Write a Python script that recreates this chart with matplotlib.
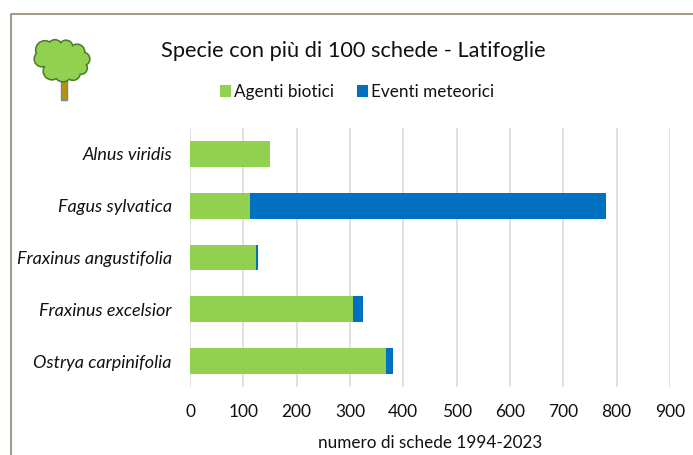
import matplotlib
matplotlib.use("Agg")
import matplotlib.pyplot as plt
from matplotlib.patches import Circle, Rectangle

plt.rcParams["font.family"] = ["Lato", "DejaVu Sans"]

species = ["Alnus viridis", "Fagus sylvatica", "Fraxinus angustifolia", "Fraxinus excelsior", "Ostrya carpinifolia"]
agenti_biotici = [150, 112, 124, 306, 367]
eventi_meteorici = [0, 668, 3, 19, 14]
x_ticks = [0, 100, 200, 300, 400, 500, 600, 700, 800, 900]

W, H = 693, 455
GREEN = "#92D050"
BLUE = "#0070C0"
GRID = "#D9D9D9"
FRAME = "#A69C8E"
TEXT = "#111111"

fig = plt.figure(figsize=(W / 100, H / 100), dpi=100, facecolor="white")

# overlay in pixel coordinates for the frame and the tree icon
bg = fig.add_axes([0, 0, 1, 1])
bg.set_xlim(0, W)
bg.set_ylim(H, 0)
bg.axis("off")
bg.plot([10.5, 10.5, W], [H, 13.5, 13.5], color=FRAME, linewidth=1.5, solid_capstyle="butt")

bg.add_patch(Rectangle((60.5, 80), 6, 19.5, facecolor="#BF8F00", edgecolor="#5B8DB8", linewidth=1))
lobes = [(45, 50, 9), (55, 47, 7), (66, 47, 6.5), (77, 52, 7.5), (83, 59, 6.5), (81, 68, 6),
         (73, 73, 7), (63, 73, 8.5), (52, 71, 8.5), (42, 59, 7.5), (60, 58, 14), (70, 60, 12), (50, 58, 10)]
for cx, cy, r in lobes:
    bg.add_patch(Circle((cx, cy), r, facecolor=GREEN, edgecolor="#4E7D2A", linewidth=1.6))
for cx, cy, r in lobes:
    bg.add_patch(Circle((cx, cy), r - 0.5, facecolor=GREEN, edgecolor="none"))

ax = fig.add_axes([190 / W, 1 - 387 / H, 480 / W, 259 / H])
ax.set_facecolor("none")
y = range(len(species))
ax.barh(y, agenti_biotici, height=0.5, color=GREEN, label="Agenti biotici", zorder=3)
ax.barh(y, eventi_meteorici, height=0.5, left=agenti_biotici, color=BLUE, label="Eventi meteorici", zorder=3)

ax.set_xlim(0, 900)
ax.set_ylim(len(species) - 0.5, -0.5)
ax.set_yticks(list(y))
ax.set_yticklabels(species, fontsize=13.0, fontstyle="italic", color=TEXT)
ax.set_xticks(x_ticks)
ax.tick_params(axis="both", length=0)
ax.tick_params(axis="x", labelsize=12.5, labelcolor=TEXT, pad=12)
ax.tick_params(axis="y", pad=13)
ax.grid(True, axis="x", color=GRID, linewidth=1.1, zorder=0)
for side in ["top", "right", "bottom", "left"]:
    ax.spines[side].set_visible(False)
ax.set_xlabel("numero di schede 1994-2023", fontsize=12.3, color=TEXT, labelpad=11)

fig.text(353 / W, 1 - 51 / H, "Specie con più di 100 schede - Latifoglie", fontsize=15.7,
         color=TEXT, ha="center", va="center")
fig.legend(loc="center", bbox_to_anchor=(357 / W, 1 - 92 / H), ncol=2, frameon=False, fontsize=12.3,
           handlelength=0.65, handleheight=0.65, handletextpad=0.2, columnspacing=1.3,
           labelcolor=TEXT)

fig.savefig("out.png", dpi=100, facecolor="white")
